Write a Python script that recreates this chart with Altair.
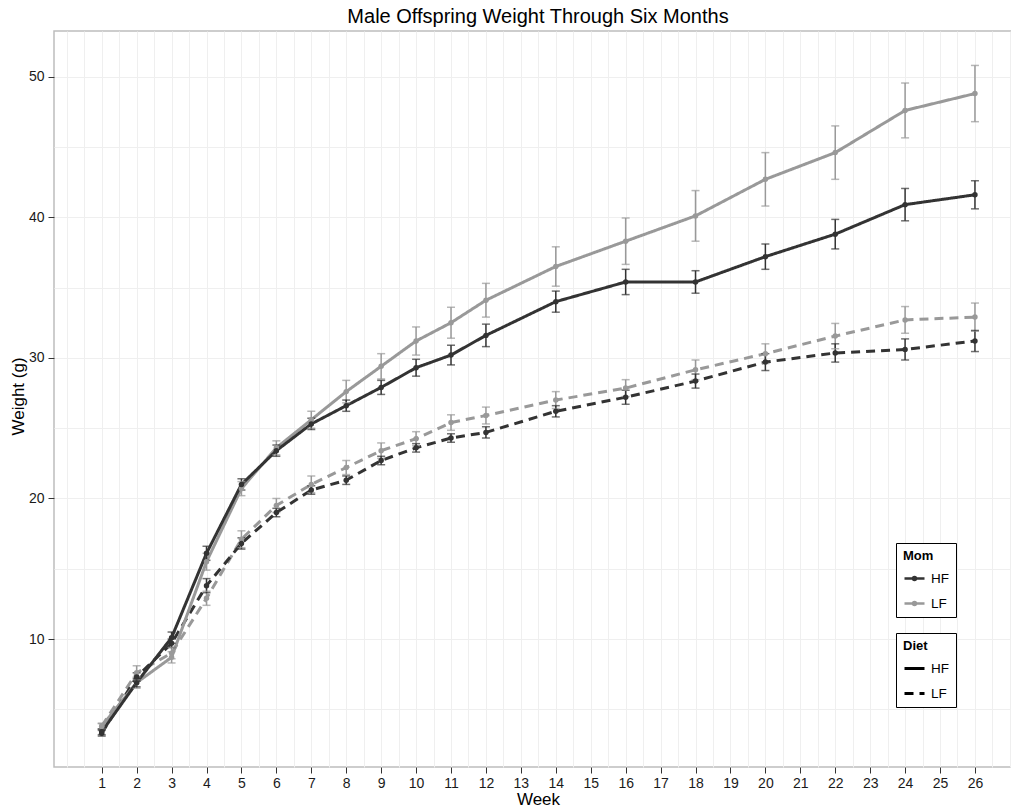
import altair as alt
import pandas as pd

# ---- data ----
weeks = [1, 2, 3, 4, 5, 6, 7, 8, 9, 10, 11, 12, 14, 16, 18, 20, 22, 24, 26]

# Mom HF, Diet HF (dark, solid)
hf_hf = [3.4, 6.9, 10.1, 16.1, 21.0, 23.4, 25.3, 26.6, 27.9, 29.3, 30.2, 31.6, 34.0, 35.4, 35.4, 37.2, 38.8, 40.9, 41.6]
hf_hf_se = [0.2, 0.3, 0.4, 0.5, 0.4, 0.4, 0.4, 0.4, 0.5, 0.6, 0.7, 0.8, 0.75, 0.9, 0.8, 0.9, 1.05, 1.15, 1.0]
# Mom LF, Diet HF (grey, solid)
lf_hf = [3.8, 6.9, 8.7, 15.5, 20.7, 23.6, 25.6, 27.6, 29.4, 31.2, 32.5, 34.1, 36.5, 38.3, 40.1, 42.7, 44.6, 47.6, 48.8]
lf_hf_se = [0.2, 0.4, 0.4, 0.6, 0.5, 0.5, 0.6, 0.8, 0.9, 1.0, 1.1, 1.2, 1.4, 1.65, 1.8, 1.9, 1.9, 1.95, 2.0]
# Mom HF, Diet LF (dark, dashed)
hf_lf = [3.3, 7.3, 9.7, 13.8, 16.8, 19.0, 20.6, 21.3, 22.7, 23.6, 24.3, 24.7, 26.2, 27.2, 28.35, 29.7, 30.35, 30.6, 31.2]
hf_lf_se = [0.2, 0.3, 0.3, 0.5, 0.4, 0.3, 0.3, 0.3, 0.3, 0.3, 0.3, 0.4, 0.4, 0.5, 0.5, 0.6, 0.65, 0.75, 0.75]
# Mom LF, Diet LF (grey, dashed)
lf_lf = [3.8, 7.6, 9.0, 12.9, 17.1, 19.5, 21.0, 22.2, 23.4, 24.25, 25.4, 25.9, 27.0, 27.85, 29.15, 30.3, 31.55, 32.7, 32.9]
lf_lf_se = [0.2, 0.5, 0.4, 0.5, 0.6, 0.5, 0.6, 0.5, 0.55, 0.5, 0.55, 0.6, 0.6, 0.6, 0.7, 0.7, 0.9, 0.95, 1.0]

mom_levels = ["HF", "LF"]
diet_levels = ["HF", "LF"]
mom_colors = ["#333333", "#999999"]

x_grid = [0, 0.5, 1, 1.5, 2, 2.5, 3, 3.5, 4, 4.5, 5, 5.5, 6, 6.5, 7, 7.5, 8, 8.5, 9, 9.5,
          10, 10.5, 11, 11.5, 12, 12.5, 13, 13.5, 14, 14.5, 15, 15.5, 16, 16.5, 17, 17.5,
          18, 18.5, 19, 19.5, 20, 20.5, 21, 21.5, 22, 22.5, 23, 23.5, 24, 24.5, 25, 25.5,
          26, 26.5, 27]
y_grid = [5, 10, 15, 20, 25, 30, 35, 40, 45, 50]

series = [
    ("LF", "LF", lf_lf, lf_lf_se),
    ("HF", "LF", hf_lf, hf_lf_se),
    ("LF", "HF", lf_hf, lf_hf_se),
    ("HF", "HF", hf_hf, hf_hf_se),
]
rows = []
for mom, diet, vals, ses in series:
    for w, v, s in zip(weeks, vals, ses):
        rows.append({"week": w, "weight": v, "lo": v - s, "hi": v + s,
                     "mom": mom, "diet": diet})
df = pd.DataFrame(rows)

FONT = "Liberation Sans"

x_scale = alt.Scale(domain=[-0.366, 27.032], nice=False, zero=False)
y_scale = alt.Scale(domain=[0.9, 53.25], nice=False, zero=False)
# colour domain comes from the data (sorted HF, LF) so that the two legends stay separate
color_scale = alt.Scale(range=mom_colors)
dash_scale = alt.Scale(domain=diet_levels, range=[[1, 0], [9, 6]])

x_axis = alt.Axis(
    values=x_grid, tickCount=100,
    labelExpr="(datum.value % 1 === 0 && datum.value >= 1 && datum.value <= 26) ? format(datum.value, 'd') : ''",
    tickOpacity={"condition": {"test": "datum.value % 1 === 0 && datum.value >= 1 && datum.value <= 26", "value": 1}, "value": 0},
    tickSize=6, tickColor="#333333", tickWidth=1,
    labelPadding=3, labelFontSize=14, labelColor="#1a1a1a", labelFont=FONT,
    labelOverlap=False, labelFlush=False,
    title="Week", titleFontSize=17, titleFontWeight="normal", titleFont=FONT, titleColor="#000000",
    titleX=484, titleY=32, titleBaseline="middle", titleAlign="center",
    grid=True, gridColor="#efefef", gridWidth=1, domain=False,
)
y_axis = alt.Axis(
    values=y_grid, tickCount=40,
    labelExpr="datum.value % 10 === 0 ? format(datum.value, 'd') : ''",
    tickOpacity={"condition": {"test": "datum.value % 10 === 0", "value": 1}, "value": 0},
    tickSize=6, tickColor="#333333", tickWidth=1,
    labelPadding=4, labelFontSize=14, labelColor="#1a1a1a", labelFont=FONT,
    labelOverlap=False, labelFlush=False,
    title="Weight (g)", titleFontSize=17, titleFontWeight="normal", titleFont=FONT, titleColor="#000000",
    titleX=-36, titleY=365, titleAngle=270, titleBaseline="middle", titleAlign="center",
    grid=True, gridColor="#efefef", gridWidth=1, domain=False,
)

mom_symbol = "M-1,0L1,0M-0.15,0A0.15,0.15,0,1,1,0.15,0A0.15,0.15,0,1,1,-0.15,0Z"

mom_legend = alt.Legend(
    title="Mom", orient="none", legendX=842, legendY=512,
    symbolType=mom_symbol, symbolSize=400, symbolStrokeWidth=2.5, symbolOpacity=1,
    fillColor="white", strokeColor="black", padding=7, cornerRadius=0,
    titleFontSize=13, titleFontWeight="bold", titleFont=FONT, titleColor="black", titlePadding=4,
    labelFontSize=13.5, labelFont=FONT, labelColor="black", labelOffset=5, rowPadding=7,
)
diet_legend = alt.Legend(
    title="Diet", orient="none", legendX=842, legendY=602,
    symbolType="stroke", symbolSize=400, symbolStrokeWidth=3, symbolStrokeColor="black",
    symbolOpacity=1,
    fillColor="white", strokeColor="black", padding=7, cornerRadius=0,
    titleFontSize=13, titleFontWeight="bold", titleFont=FONT, titleColor="black", titlePadding=4,
    labelFontSize=13.5, labelFont=FONT, labelColor="black", labelOffset=5, rowPadding=7,
)

base = alt.Chart(df)

lines = base.mark_line(strokeWidth=3).encode(
    x=alt.X("week:Q", scale=x_scale, axis=x_axis),
    y=alt.Y("weight:Q", scale=y_scale, axis=y_axis),
    color=alt.Color("mom:N", scale=color_scale, legend=mom_legend),
    strokeDash=alt.StrokeDash("diet:N", scale=dash_scale, legend=diet_legend),
)
err_rule = base.mark_rule(strokeWidth=1.5).encode(
    x=alt.X("week:Q", scale=x_scale, axis=x_axis),
    y=alt.Y("lo:Q", scale=y_scale, axis=y_axis),
    y2="hi:Q",
    color=alt.Color("mom:N", scale=color_scale, legend=mom_legend),
)
err_lo = base.mark_tick(orient="horizontal", size=8, thickness=1.5).encode(
    x=alt.X("week:Q", scale=x_scale, axis=x_axis),
    y=alt.Y("lo:Q", scale=y_scale, axis=y_axis),
    color=alt.Color("mom:N", scale=color_scale, legend=mom_legend),
)
err_hi = base.mark_tick(orient="horizontal", size=8, thickness=1.5).encode(
    x=alt.X("week:Q", scale=x_scale, axis=x_axis),
    y=alt.Y("hi:Q", scale=y_scale, axis=y_axis),
    color=alt.Color("mom:N", scale=color_scale, legend=mom_legend),
)
points = base.mark_point(filled=True, shape="circle", size=30, opacity=1).encode(
    x=alt.X("week:Q", scale=x_scale, axis=x_axis),
    y=alt.Y("weight:Q", scale=y_scale, axis=y_axis),
    color=alt.Color("mom:N", scale=color_scale, legend=mom_legend),
)

chart = alt.layer(lines, err_rule, err_lo, err_hi, points).properties(
    width=957, height=736,
    padding={"left": 54, "top": 31, "right": 0, "bottom": 42},
    autosize=alt.AutoSizeParams(type="none"),
    title=alt.TitleParams(
        "Male Offspring Weight Through Six Months",
        fontSize=20, font=FONT, fontWeight="normal", color="black",
        anchor="middle", dx=5.5, dy=20, offset=8, baseline="alphabetic",
    ),
).configure(font=FONT, background="white").configure_view(
    stroke="#bdbdbd", strokeWidth=1.5
)

chart.save("out.html", embed_options={"renderer": "svg", "actions": False})
